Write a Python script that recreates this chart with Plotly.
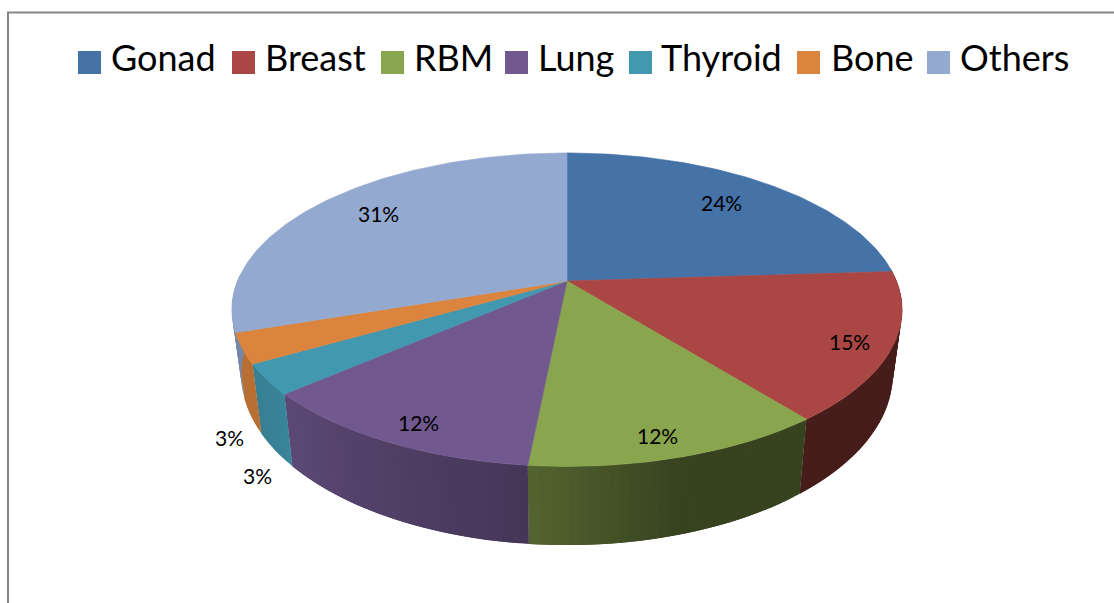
import math
import plotly.graph_objects as go

# ---- data ----
categories = ["Gonad", "Breast", "RBM", "Lung", "Thyroid", "Bone", "Others"]
values = [24.0, 15.3, 12.25, 12.05, 3.1, 3.1, 30.2]
percent_labels = ["24%", "15%", "12%", "12%", "3%", "3%", "31%"]

# ---- style ----
colors = ["#4572a7", "#aa4643", "#89a54e", "#71588f", "#4198af", "#db843d", "#93a9cf"]
side_start = [0.41, 0.41, 0.40, 0.61, 0.87, 0.84, 0.80]
side_end = [0.41, 0.41, 0.61, 0.82, 0.84, 0.84, 0.80]
side_hold = [0, 0, 0.5, 0, 0, 0, 0]

# ---- layout (pixel space of the page) ----
W, H = 1114, 603
CX, CY = 567, 281
A, B, K = 329.5, 151.5, 0.183
BOTTOM_X, BOTTOM_Y, DROP = 0.972, 1.09, 62.0
label_xy = [(721, 202), (849, 341), (657, 435), (418, 422), (229, 437), (257, 475), (378, 213)]
legend_sq_x = [89.5, 243.5, 392.5, 516.5, 640.5, 808.5, 938.5]
legend_txt_x = [109, 263, 412, 536, 659, 829, 958]
LEGEND_Y = 56.5
LEGEND_FONT = dict(family="Lato, Carlito, sans-serif", size=36, color="#000000")
LABEL_FONT = dict(family="Lato, Carlito, sans-serif", size=21, color="#000000")


def top_point(t):
    s, c = -math.cos(t), math.sin(t)
    d = 1 - K * s
    return A * c / d, B * s / d


def bottom_point(t):
    x, y = top_point(t)
    return x * BOTTOM_X, DROP + y * BOTTOM_Y


def px(p):
    return CX + p[0], CY + p[1]


def shade(hex_color, f):
    r, g, b = (int(hex_color[i:i + 2], 16) for i in (1, 3, 5))
    return f"rgb({round(r * f)},{round(g * f)},{round(b * f)})"


total = sum(values)
edges = [0.0]
for v in values:
    edges.append(edges[-1] + v / total * 2 * math.pi)

fig = go.Figure()


def poly(points, color, line_width=0.0):
    xs = [p[0] for p in points]
    ys = [p[1] for p in points]
    fig.add_trace(go.Scatter(
        x=xs + xs[:1], y=ys + ys[:1], mode="lines", fill="toself", fillcolor=color,
        line=dict(color=color, width=line_width), hoverinfo="skip", showlegend=False))


# side walls, only the part facing the viewer; each strip runs on under the
# next one so that no background shows through at the joints
VIS_A, VIS_B = math.radians(85), math.radians(272)
STEP = math.radians(1.5)
for i in range(len(values)):
    a0, a1 = max(edges[i], VIS_A), min(edges[i + 1], VIS_B)
    if a1 <= a0:
        continue
    n = max(1, math.ceil((a1 - a0) / STEP))
    for j in range(n):
        t0 = a0 + (a1 - a0) * j / n
        t1 = min(a1, a0 + (a1 - a0) * (j + 2) / n)
        tm = (t0 + t1) / 2
        f = (j + 0.5) / n
        h = side_hold[i]
        u = max(0.0, (f - h) / (1 - h))
        c = shade(colors[i], side_start[i] + (side_end[i] - side_start[i]) * u)
        poly([px(top_point(t0)), px(top_point(tm)), px(top_point(t1)),
              px(bottom_point(t1)), px(bottom_point(tm)), px(bottom_point(t0))], c)

# top surface
for i in range(len(values)):
    a0, a1 = edges[i], edges[i + 1]
    n = max(4, math.ceil((a1 - a0) / math.radians(1)))
    arc = [px(top_point(a0 + (a1 - a0) * j / n)) for j in range(n + 1)]
    poly([(CX, CY)] + arc, colors[i], 0.6)

# legend swatches
fig.add_trace(go.Scatter(
    x=legend_sq_x, y=[62.5] * len(categories), mode="markers",
    marker=dict(symbol="square", size=23, color=colors, line=dict(width=0)),
    hoverinfo="skip", showlegend=False))

ann = []
for name, x in zip(categories, legend_txt_x):
    ann.append(dict(x=x, y=LEGEND_Y, text=name, showarrow=False, xanchor="left", yanchor="middle",
                    xref="x", yref="y", font=LEGEND_FONT))
for lab, (x, y) in zip(percent_labels, label_xy):
    ann.append(dict(x=x, y=y, text=lab, showarrow=False, xanchor="center", yanchor="middle",
                    xref="x", yref="y", font=LABEL_FONT))

fig.update_layout(
    width=W, height=H, margin=dict(l=0, r=0, t=0, b=0),
    paper_bgcolor="white", plot_bgcolor="white", showlegend=False,
    xaxis=dict(range=[0, W], visible=False, fixedrange=True),
    yaxis=dict(range=[H, 0], visible=False, fixedrange=True),
    annotations=ann,
    shapes=[
        dict(type="line", xref="x", yref="y", x0=8, y0=603, x1=8, y1=12.5, line=dict(color="#868686", width=2)),
        dict(type="line", xref="x", yref="y", x0=7, y0=12.5, x1=1114, y1=12.5, line=dict(color="#868686", width=2)),
    ],
)

fig.write_html("out.html", config=dict(displayModeBar=False),
               post_script="document.body.style.margin='0';document.body.style.overflow='hidden';")
